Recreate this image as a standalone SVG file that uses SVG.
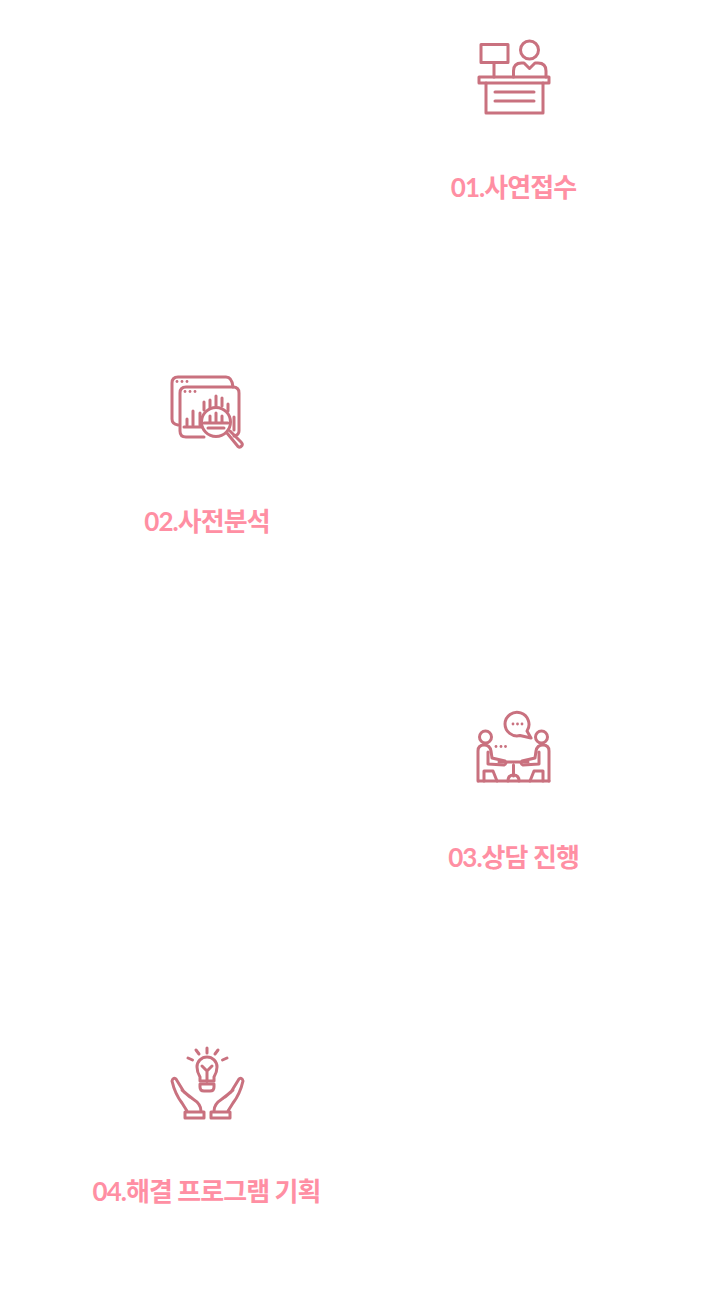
<svg xmlns="http://www.w3.org/2000/svg" width="720" height="1291" viewBox="0 0 720 1291">
<defs><filter id="soft" x="-5%" y="-5%" width="110%" height="110%"><feGaussianBlur stdDeviation="0.5"/></filter></defs>
<style>
.i{fill:none;stroke:#c9717f;stroke-width:3;stroke-linecap:round;stroke-linejoin:round;filter:url(#soft)}
.d{fill:#c9717f;filter:url(#soft)}
.t{font-family:"Lato","Noto Sans CJK KR",sans-serif;font-size:26px;font-weight:700;fill:#ff8fa3;text-anchor:middle;letter-spacing:-0.95px}
</style>
<rect width="720" height="1291" fill="#fff"/>
<g id="node-01">
<g class="i">
<rect x="481" y="44.500" width="27" height="18"/>
<path d="M494 63V77"/>
<circle cx="529.500" cy="50" r="9"/>
<path d="M513.500 77V71Q513.500 63 521.500 63H524L529.500 68.500L535 63H538Q546 63 546 71V77"/>
<rect x="479" y="77" width="70" height="6"/>
<path d="M486 83V113H543V83"/>
<path d="M495 92H534M495 101H534"/>
</g>
<text class="t" x="513.500" y="197">01.사연접수</text>
</g>
<g id="node-02">
<g class="i">
<path d="M178 425Q172 424 172 419V383Q172 377 178 377H226Q232 377 233 387"/>
<path d="M204 437H186Q180 437 180 431V393Q180 387 186 387H233Q239 387 239 393V431Q239 435 234 436"/>
<path d="M187 425V419M193 425V411M200 425V413M184 427H202"/>
<path d="M204 410V402M210 408V400M216 406V396M222 406V398M228 411V404M234 430V417"/>
<circle cx="216" cy="422" r="14.500"/>
<path d="M204 423H228M210 416V422M216 413V422M222 416V422M208 428H224"/>
<path d="M227 433L238 446.500Q240 448 242 445.500Q243 444 241 442L230 431"/>
</g>
<g class="d"><circle cx="177" cy="381.500" r="1.400"/><circle cx="182" cy="381.500" r="1.400"/><circle cx="187" cy="381.500" r="1.400"/><circle cx="185" cy="391.500" r="1.400"/><circle cx="190" cy="391.500" r="1.400"/><circle cx="195" cy="391.500" r="1.400"/></g>
<text class="t" x="207" y="531">02.사전분석</text>
</g>
<g id="node-03">
<g class="i">
<path d="M505 724A12 12 0 1 1 527 731L531 738L520 735.500A12 12 0 0 1 505 724Z"/>
<circle cx="485.500" cy="737" r="6"/>
<circle cx="541.500" cy="737" r="6"/>
<path d="M478 781V751Q478 745 484 745Q490 745 491 751L492 758L505 761Q507 764 504 765L488 764V752M484 771H493L497 781M484 771V781"/>
<path d="M549 781V751Q549 745 543 745Q537 745 536 751L535 758L522 761Q520 764 523 765L539 764V752M543 771H534L530 781M543 771V781"/>
<path d="M499 762H528M513.500 765V776M508 781Q508 775 513.500 775Q519 775 519 781"/>
<path d="M478.500 781H549"/>
</g>
<g class="d"><circle cx="513" cy="724" r="1.400"/><circle cx="517.500" cy="724" r="1.400"/><circle cx="522" cy="724" r="1.400"/><circle cx="496" cy="746.500" r="1.400"/><circle cx="501" cy="746.500" r="1.400"/><circle cx="505.500" cy="746.500" r="1.400"/></g>
<text class="t" x="513.500" y="867">03.상담 진행</text>
</g>
<g id="node-04">
<g class="i">
<path d="M207 1048V1053M196 1050L199 1054M218 1050L215 1054M188 1058L192.500 1060M227 1058L222.500 1060"/>
<path d="M200 1081V1077Q197 1072 197 1067A10 10 0 1 1 217 1067Q217 1072 214 1077V1081Z"/>
<path d="M200 1084H214V1087Q214 1091 210 1091H204Q200 1091 200 1087ZM207 1081V1071M202 1066L207 1071L212 1066"/>
<path d="M185 1112H204V1118H185ZM187 1111L182 1103Q175 1094 172 1081Q173 1077 176 1079L184 1092L193 1099Q201 1104 201 1111M182 1090L190 1097"/>
<path d="M230 1112H211V1118H230ZM228 1111L233 1103Q240 1094 243 1081Q242 1077 239 1079L231 1092L222 1099Q214 1104 214 1111M233 1090L225 1097"/>
</g>
<text class="t" x="206.500" y="1201">04.해결 프로그램 기획</text>
</g>
<g id="connectors"></g>
</svg>
